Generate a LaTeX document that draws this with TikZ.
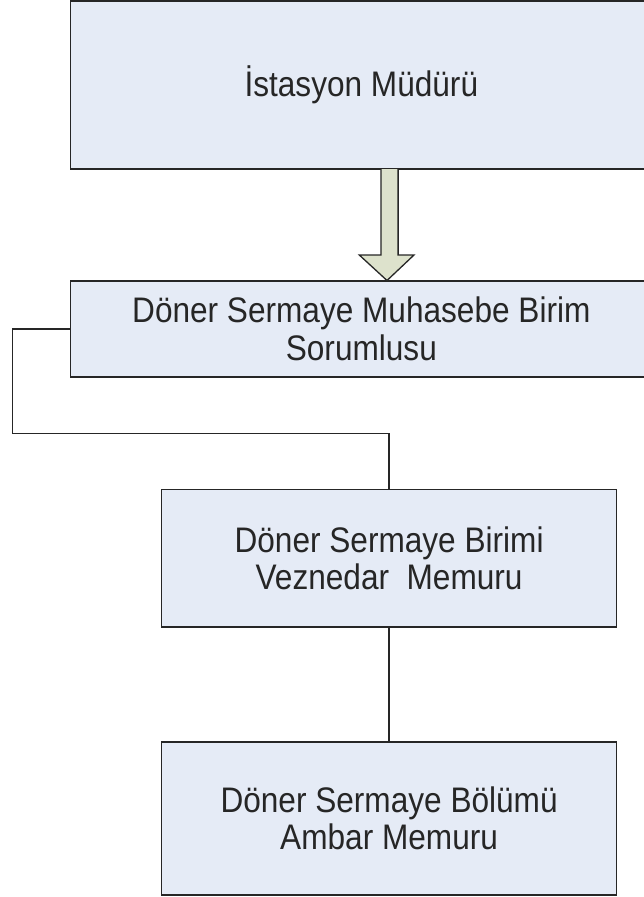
\documentclass[tikz,border=0pt]{standalone}
\usepackage{fontspec}
\setmainfont{Liberation Sans}[FakeStretch=0.89]
\definecolor{boxfill}{HTML}{E5EBF6}
\definecolor{arrfill}{HTML}{DDE2CC}
\definecolor{edge}{HTML}{262626}
\begin{document}
\begin{tikzpicture}[x=1pt,y=-1pt,
  box/.style={draw=edge, fill=boxfill, line width=1.5pt, rectangle, align=center,
    inner sep=0pt, outer sep=0pt, text=black!85,
    font=\fontsize{35.5}{37.5}\selectfont},
  link/.style={draw=edge, line width=1.3pt},
  blockarrow/.style={draw=edge, fill=arrfill, line width=1.3pt, line join=miter}]
\useasboundingbox (0,0) rectangle (644,897);
\clip (0,0) rectangle (644,897);
\node[box, minimum width=581.3pt, minimum height=168pt] (top) at (361.35,85) {İstasyon Müdürü};
\node[box, minimum width=581.3pt, minimum height=96pt] (b2) at (361.35,329) {Döner Sermaye Muhasebe Birim\\Sorumlusu};
\node[box, minimum width=455.2pt, minimum height=137.7pt] (b3) at (389.1,558.2) {Döner Sermaye Birimi\\Veznedar\ \ Memuru};
\node[box, minimum width=455.2pt, minimum height=153pt] (b4) at (389.1,818.5) {Döner Sermaye Bölümü\\Ambar Memuru};
\coordinate (c1) at (12.7,433.3);
\draw[link] (b2.west) -| (c1) -| (b3.north);
\draw[link] (b3.south) -- (b4.north);
\coordinate (as) at (389.5,169);
\draw[blockarrow] (as) ++(-8.6,0) -- ++(0,86) -- ++(-21.6,0) -- (387,280.5) -- (414,255) -- (398.1,255) -- (398.1,169);
\end{tikzpicture}
\end{document}
